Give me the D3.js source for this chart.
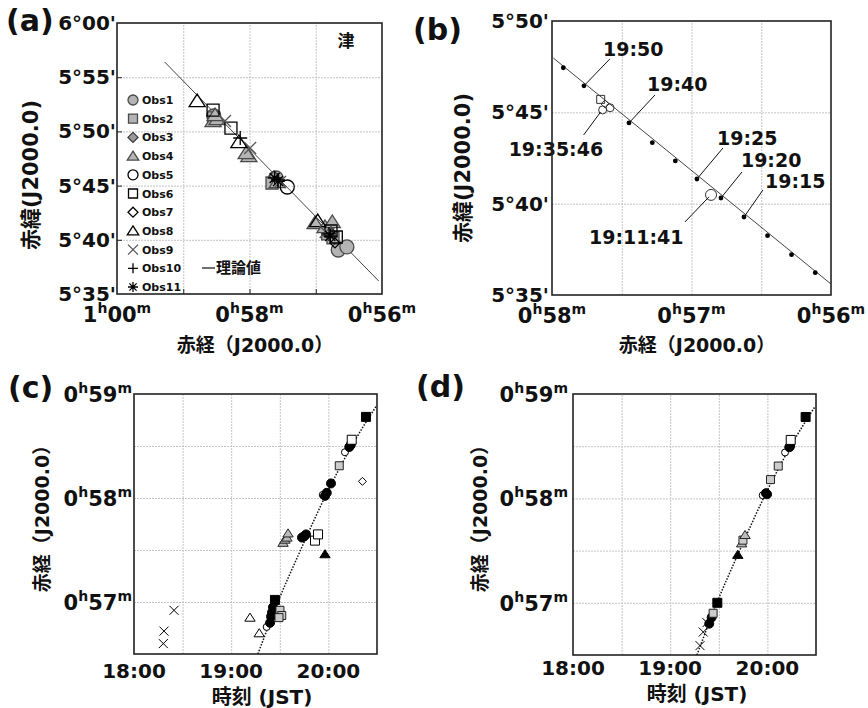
<!DOCTYPE html>
<html lang="ja">
<head>
<meta charset="UTF-8">
<title>観測位置と理論値</title>
<script src="https://cdn.jsdelivr.net/npm/d3@7"></script>
<style>
  body { margin: 0; background: #fff; }
  svg text { font-family: "DejaVu Sans", "Noto Sans CJK JP", sans-serif; font-weight: bold; fill: #111; }
</style>
</head>
<body>
<script>
// ---------- データ ----------
// 赤経は 0h からの分、赤緯は 5° からの分角
var obsNames = ["Obs1","Obs2","Obs3","Obs4","Obs5","Obs6","Obs7","Obs8","Obs9","Obs10","Obs11"];

// (a) 各観測者の位置 [名前, 赤経(分), 赤緯(分角)]
var aPoints = [
  ["Obs1", 58.54, 51.42], ["Obs1", 57.60, 45.70], ["Obs1", 56.66, 39.06], ["Obs1", 56.53, 39.34],
  ["Obs2", 58.54, 51.24], ["Obs2", 57.66, 45.24], ["Obs2", 56.82, 40.54], ["Obs2", 56.74, 40.17],
  ["Obs3", 57.63, 45.89], ["Obs3", 56.78, 40.72],
  ["Obs4", 58.55, 50.96], ["Obs4", 58.49, 51.14], ["Obs4", 58.52, 51.51], ["Obs4", 58.01, 47.73],
  ["Obs4", 58.05, 48.01], ["Obs4", 57.58, 45.33], ["Obs4", 57.01, 41.55], ["Obs4", 56.86, 41.18], ["Obs4", 56.75, 41.64],
  ["Obs5", 57.43, 44.87],
  ["Obs6", 58.55, 51.97], ["Obs6", 58.28, 50.31], ["Obs6", 56.69, 40.26], ["Obs6", 56.77, 40.81],
  ["Obs7", 56.71, 39.71],
  ["Obs8", 58.79, 52.80], ["Obs8", 58.16, 49.02], ["Obs8", 56.97, 41.73],
  ["Obs9", 58.37, 50.96], ["Obs9", 57.99, 48.47], ["Obs9", 57.54, 45.33], ["Obs9", 56.85, 40.72],
  ["Obs10", 58.14, 49.39], ["Obs10", 57.57, 45.52], ["Obs10", 56.80, 40.54],
  ["Obs11", 57.62, 45.70], ["Obs11", 57.57, 45.42], ["Obs11", 56.78, 40.35]
];
var theoryRaA = [59.28, 56.05];
var theoryDecA = [56.4, 36.2];
var decTicksA = [35, 40, 45, 50, 55, 60];
var decGridA = [40, 45, 50, 55];
var raTicksA = [60, 58, 56];
var raGridA = [59, 58, 57];

// (b) 理論経路の時刻と位置
var trackTimes = ["19:55","19:50","19:40","19:35","19:30","19:25","19:20","19:15","19:10","19:05","19:00"];
var trackRa  = [57.919, 57.771, 57.448, 57.281, 57.116, 56.961, 56.789, 56.624, 56.455, 56.283, 56.113];
var trackDec = [47.44, 46.45, 44.42, 43.34, 42.34, 41.35, 40.31, 39.27, 38.25, 37.21, 36.22];
var theoryRaB = [57.99, 56.0];
var theoryDecB = [47.97, 35.6];
var trackLabels = ["19:50", "19:40", "19:25", "19:20", "19:15"];
var bObsType = ["gsquare", "odiamond", "ocircle", "ocircle", "ocircle"];
var bObsRa  = [57.651, 57.620, 57.637, 57.584, 56.860];
var bObsDec = [45.71, 45.46, 45.13, 45.25, 40.48];
var bObsLabels = ["19:35:46", "19:11:41"];
var decTicksB = [35, 40, 45, 50];
var decGridB = [40, 45];
var raTicksB = [58, 57, 56];
var raGridB = [57.5, 57, 56.5];

// (c) 時刻と赤経
var cType = ["x","x","x","otri","otri","ocircle","fcircle","fcircle","fcircle","fcircle","fsquare",
  "gsquare","gsquare","gsquare","gtri","gtri","gtri","gtri","fcircle","fcircle","fcircle","osquare","osquare",
  "ftri","ocircle","fcircle","fcircle","fcircle","gsquare","ocircle","fcircle","fcircle","osquare","odiamond","fsquare"];
var cTime = ["18:18:06","18:18:30","18:24:42","19:11:36","19:17:18","19:21:54","19:24:00","19:24:36","19:25:12",
  "19:25:48","19:27:00","19:30:06","19:31:12","19:29:30","19:32:00","19:33:12","19:34:24","19:35:06","19:43:42",
  "19:45:00","19:46:12","19:51:42","19:53:36","19:57:54","19:56:30","19:57:54","19:59:00","20:01:36","20:06:42",
  "20:10:12","20:12:54","20:13:48","20:14:24","20:21:00","20:23:12"];
var cRa = [56.60,56.72,56.92,56.85,56.70,56.76,56.80,56.86,56.90,56.95,57.02,56.92,56.87,56.85,57.57,57.60,57.62,
  57.66,57.62,57.63,57.65,57.59,57.65,57.46,58.03,58.02,58.05,58.14,58.31,58.44,58.49,58.51,58.56,58.16,58.78];

// (d) 補正後
var dType = ["x","x","x","fcircle","fcircle","gsquare","fsquare","ftri","gtri","gsquare","gtri","ocircle","fcircle",
  "fcircle","gsquare","gsquare","ocircle","fcircle","fcircle","osquare","fsquare"];
var dTime = ["19:18:24","19:20:24","19:22:42","19:24:06","19:25:36","19:26:30","19:29:06","19:41:42","19:44:06",
  "19:44:54","19:46:12","19:57:06","19:59:06","19:59:48","20:01:54","20:06:42","20:10:54","20:13:30","20:14:00",
  "20:14:24","20:23:36"];
var dRa = [56.59,56.72,56.81,56.80,56.86,56.90,57.00,57.46,57.57,57.60,57.65,58.03,58.05,58.04,58.18,58.31,58.44,
  58.49,58.50,58.56,58.78];

// 理論曲線（時刻-赤経）
var fitTime = ["19:16:30","19:29:06","19:41:42","19:58:30","20:14:00","20:29:24"];
var fitRa = [56.50, 57.01, 57.46, 58.03, 58.49, 58.88];

var timeTicks = ["18:00:00","19:00:00","20:00:00"];
var timeGrid = ["18:30:00","19:00:00","19:30:00","20:00:00"];
var raTicksC = [59, 58, 57];
var raGridC = [57, 57.5, 58, 58.5];

// ---------- スタイル ----------
var obsStyle = {
  Obs1: {shape: "circle", fill: "#b4b4b4", stroke: "#4a4a4a"},
  Obs2: {shape: "square", fill: "#b4b4b4", stroke: "#4a4a4a"},
  Obs3: {shape: "diamond", fill: "#9a9a9a", stroke: "#3a3a3a"},
  Obs4: {shape: "triangle", fill: "#b4b4b4", stroke: "#4a4a4a"},
  Obs5: {shape: "circle", fill: "none", stroke: "#000"},
  Obs6: {shape: "square", fill: "none", stroke: "#000"},
  Obs7: {shape: "diamond", fill: "none", stroke: "#000"},
  Obs8: {shape: "triangle", fill: "none", stroke: "#000"},
  Obs9: {shape: "x", fill: "none", stroke: "#555"},
  Obs10: {shape: "plus", fill: "none", stroke: "#000"},
  Obs11: {shape: "asterisk", fill: "none", stroke: "#000"}
};
var sizeA = {circle: 7, square: 6, diamond: 5, triangle: 7, x: 6, plus: 7, asterisk: 7};

var smallStyle = {
  fcircle: {shape: "circle", fill: "#000", stroke: "#000", r: 4.5},
  fsquare: {shape: "square", fill: "#000", stroke: "#000", r: 4.5},
  ftri: {shape: "triangle", fill: "#000", stroke: "#000", r: 4.5},
  ocircle: {shape: "circle", fill: "#fff", stroke: "#000", r: 3.5},
  osquare: {shape: "square", fill: "#fff", stroke: "#000", r: 4.5},
  gsquare: {shape: "square", fill: "#ccc", stroke: "#222", r: 4},
  gtri: {shape: "triangle", fill: "#bbb", stroke: "#222", r: 4.5},
  otri: {shape: "triangle", fill: "#fff", stroke: "#000", r: 4.5},
  odiamond: {shape: "diamond", fill: "#fff", stroke: "#000", r: 4},
  x: {shape: "x", fill: "none", stroke: "#000", r: 4.5}
};

function shapeD(shape, r) {
  if (shape === "circle") return "M" + r + ",0A" + r + "," + r + " 0 1,1 " + (-r) + ",0A" + r + "," + r + " 0 1,1 " + r + ",0Z";
  if (shape === "square") return "M" + (-r) + "," + (-r) + "h" + 2 * r + "v" + 2 * r + "h" + (-2 * r) + "Z";
  if (shape === "triangle") return "M0," + (-r) + "L" + 1.15 * r + "," + 0.8 * r + "L" + (-1.15 * r) + "," + 0.8 * r + "Z";
  if (shape === "diamond") return "M0," + (-r) + "L" + r + ",0L0," + r + "L" + (-r) + ",0Z";
  if (shape === "x") return "M" + (-r) + "," + (-r) + "L" + r + "," + r + "M" + (-r) + "," + r + "L" + r + "," + (-r);
  if (shape === "plus") return "M" + (-r) + ",0H" + r + "M0," + (-r) + "V" + r;
  var q = r * 0.72;
  return shapeD("plus", r) + shapeD("x", q);
}

function marker(g, shape, x, y, r, fill, stroke, sw) {
  g.append("path")
    .attr("d", shapeD(shape, r))
    .attr("transform", "translate(" + x + "," + y + ")")
    .attr("fill", fill)
    .attr("stroke", stroke)
    .attr("stroke-width", sw || 1.2);
}

// ---------- 共通 ----------
var width = 868, height = 708;
var svg = d3.select("body").append("svg").attr("width", width).attr("height", height);
var parseT = d3.timeParse("%H:%M:%S");
var parseHM = d3.timeParse("%H:%M");

function grid(p, xs, ys, xv, yv, tick) {
  var g = svg.append("g");
  g.append("g").attr("transform", "translate(0," + (p.y + p.h) + ")")
    .call(d3.axisBottom(xs).tickValues(xv).tickSize(-p.h).tickFormat(""))
    .call(function(s){ s.select(".domain").remove(); })
    .selectAll("line").attr("stroke", "#c4c4c4").attr("stroke-dasharray", "2,1");
  g.append("g").attr("transform", "translate(" + p.x + ",0)")
    .call(d3.axisLeft(ys).tickValues(yv).tickSize(-p.w).tickFormat(""))
    .call(function(s){ s.select(".domain").remove(); })
    .selectAll("line").attr("stroke", "#c4c4c4").attr("stroke-dasharray", "2,1");
  if (tick) {
    g.append("g").attr("transform", "translate(0," + (p.y + p.h) + ")")
      .call(d3.axisBottom(xs).tickValues(xv).tickSize(-5).tickFormat(""))
      .call(function(s){ s.select(".domain").remove(); })
      .selectAll("line").attr("stroke", "#222");
    g.append("g").attr("transform", "translate(" + p.x + ",0)")
      .call(d3.axisLeft(ys).tickValues(yv).tickSize(-5).tickFormat(""))
      .call(function(s){ s.select(".domain").remove(); })
      .selectAll("line").attr("stroke", "#222");
  }
}

function frame(p) {
  svg.append("rect").attr("x", p.x).attr("y", p.y).attr("width", p.w).attr("height", p.h)
    .attr("fill", "none").attr("stroke", "#222").attr("stroke-width", 1.6);
}

function raLabel(x, y, v, anchor) {
  var h = Math.floor(v / 60), m = d3.format("02d")(v % 60);
  var t = svg.append("text").attr("x", x).attr("y", y).attr("text-anchor", anchor)
    .style("font-size", "21px");
  t.append("tspan").text(h);
  t.append("tspan").attr("dy", -9).style("font-size", "14px").text("h");
  t.append("tspan").attr("dy", 9).text(m);
  t.append("tspan").attr("dy", -9).style("font-size", "14px").text("m");
}

function decLabel(x, y, v) {
  var deg = 5 + Math.floor(v / 60), m = d3.format("02d")(v % 60);
  svg.append("text").attr("x", x).attr("y", y).attr("text-anchor", "end")
    .style("font-size", "20px").text(deg + "°" + m + "'");
}

function title(x, y, s, size, rot) {
  svg.append("text")
    .attr("transform", "translate(" + x + "," + y + ")" + (rot ? " rotate(-90)" : ""))
    .attr("text-anchor", "middle").attr("dominant-baseline", rot ? "middle" : "auto")
    .style("font-size", size + "px").text(s);
}

function panelLabel(x, y, s) {
  svg.append("text").attr("x", x).attr("y", y).style("font-size", "30px").text(s);
}

// ---------- (a) ----------
var pA = {x: 117, y: 23, w: 265, h: 271};
var xA = d3.scaleLinear().domain([60, 56]).range([pA.x, pA.x + pA.w]);
var yA = d3.scaleLinear().domain([35, 60]).range([pA.y + pA.h, pA.y]);
grid(pA, xA, yA, raGridA, decGridA, true);

svg.append("line")
  .attr("x1", xA(theoryRaA[0])).attr("y1", yA(theoryDecA[0]))
  .attr("x2", xA(theoryRaA[1])).attr("y2", yA(theoryDecA[1]))
  .attr("stroke", "#444").attr("stroke-width", 1);

var gA = svg.append("g");
aPoints.forEach(function(d) {
  var st = obsStyle[d[0]];
  marker(gA, st.shape, xA(d[1]), yA(d[2]), sizeA[st.shape], st.fill, st.stroke, 1.3);
});
frame(pA);

// 凡例
obsNames.forEach(function(n, i) {
  var st = obsStyle[n], y = 100 + i * 18.7;
  marker(svg, st.shape, 133, y, st.shape === "square" ? 4.5 : 5, st.fill, st.stroke, 1.3);
  svg.append("text").attr("x", 142).attr("y", y + 4).style("font-size", "11px").text(n);
});
svg.append("line").attr("x1", 202).attr("x2", 215).attr("y1", 268).attr("y2", 268)
  .attr("stroke", "#222").attr("stroke-width", 1.3);
svg.append("text").attr("x", 216).attr("y", 273).style("font-size", "15px").text("理論値");
svg.append("text").attr("x", 346).attr("y", 47).attr("text-anchor", "middle").style("font-size", "17px").text("津");

decTicksA.forEach(function(v) { decLabel(pA.x - 1, yA(v) + 7, v); });
raTicksA.forEach(function(v) { raLabel(xA(v), 322, v, "middle"); });
panelLabel(6, 31, "(a)");
title(32, 175, "赤緯(J2000.0)", 21, true);
title(255, 352, "赤経（J2000.0）", 19, false);

// ---------- (b) ----------
var pB = {x: 552, y: 21, w: 279, h: 274};
var xB = d3.scaleLinear().domain([58, 56]).range([pB.x, pB.x + pB.w]);
var yB = d3.scaleLinear().domain([35, 50]).range([pB.y + pB.h, pB.y]);
grid(pB, xB, yB, raGridB, decGridB, false);

svg.append("line")
  .attr("x1", xB(theoryRaB[0])).attr("y1", yB(theoryDecB[0]))
  .attr("x2", xB(theoryRaB[1])).attr("y2", yB(theoryDecB[1]))
  .attr("stroke", "#444").attr("stroke-width", 1);
svg.append("g").selectAll("circle").data(trackTimes).join("circle")
  .attr("cx", function(d, i) { return xB(trackRa[i]); })
  .attr("cy", function(d, i) { return yB(trackDec[i]); })
  .attr("r", 2.4).attr("fill", "#000");

var gB = svg.append("g");
bObsType.forEach(function(t, i) {
  var st = smallStyle[t];
  var r = i === 4 ? 5.5 : 4;
  marker(gB, st.shape, xB(bObsRa[i]), yB(bObsDec[i]), r, i === 4 ? "#fff" : "none", "#333", 1);
});

// ラベルの引き出し線（オフセットはピクセル）
var trackLabelOffset = {
  "19:50": [26, -27, 19, -30], "19:40": [26, -28, 18, -32], "19:25": [26, -31, 20, -34],
  "19:20": [21, -26, 20, -31], "19:15": [19, -27, 21, -29]
};
trackLabels.forEach(function(s) {
  var i = trackTimes.indexOf(s), o = trackLabelOffset[s];
  var x = xB(trackRa[i]), y = yB(trackDec[i]);
  svg.append("line").attr("x1", x).attr("y1", y).attr("x2", x + o[0]).attr("y2", y + o[1])
    .attr("stroke", "#111").attr("stroke-width", 1);
  svg.append("text").attr("x", x + o[2]).attr("y", y + o[3]).style("font-size", "19px").text(s);
});
var obsLabelAnchor = [2, 4];
var obsLabelOffset = [[-19, 25, -94, 46], [-26, 27, -122, 49]];
bObsLabels.forEach(function(s, k) {
  var i = obsLabelAnchor[k], o = obsLabelOffset[k];
  var x = xB(bObsRa[i]), y = yB(bObsDec[i]);
  svg.append("line").attr("x1", x - 2).attr("y1", y + 2).attr("x2", x + o[0]).attr("y2", y + o[1])
    .attr("stroke", "#111").attr("stroke-width", 1);
  svg.append("text").attr("x", x + o[2]).attr("y", y + o[3]).style("font-size", "19px").text(s);
});
frame(pB);

decTicksB.forEach(function(v) { decLabel(pB.x - 3, yB(v) + 7, v); });
raTicksB.forEach(function(v) { raLabel(xB(v), 323, v, "middle"); });
panelLabel(413, 40, "(b)");
title(464, 168, "赤緯(J2000.0)", 21, true);
title(697, 352, "赤経（J2000.0）", 19, false);

// ---------- (c)(d) ----------
function timePanel(p, types, times, ras, lab, labX, labY, raLabX, tickBase, titleX, titleY, ytX) {
  var x = d3.scaleTime().domain([parseT("18:00:00"), parseT("20:30:00")]).range([p.x, p.x + p.w]);
  var y = d3.scaleLinear().domain([56.5, 59]).range([p.y + p.h, p.y]);
  grid(p, x, y, timeGrid.map(parseT), raGridC, false);

  var line = d3.line().curve(d3.curveMonotoneX)
    .x(function(d, i) { return x(parseT(d)); })
    .y(function(d, i) { return y(fitRa[i]); });
  svg.append("path").attr("d", line(fitTime)).attr("fill", "none")
    .attr("stroke", "#111").attr("stroke-width", 1.5).attr("stroke-dasharray", "1.5,1.5");

  var g = svg.append("g");
  types.forEach(function(t, i) {
    var st = smallStyle[t];
    marker(g, st.shape, x(parseT(times[i])), y(ras[i]), st.r, st.fill, st.stroke, 1);
  });
  frame(p);

  raTicksC.forEach(function(v) { raLabel(raLabX, y(v) + 8, v, "end"); });
  timeTicks.forEach(function(s) {
    svg.append("text").attr("x", x(parseT(s))).attr("y", tickBase).attr("text-anchor", "middle")
      .style("font-size", "20px").text(d3.timeFormat("%H:%M")(parseT(s)));
  });
  panelLabel(labX, labY, lab);
  title(ytX, p.y + 120, "赤経（J2000.0）", 19, true);
  title(titleX, titleY, "時刻 (JST)", 20, false);
}

timePanel({x: 134, y: 394, w: 243, h: 260}, cType, cTime, cRa, "(c)", 8, 398, 132, 678, 262, 704, 43);
timePanel({x: 573, y: 394, w: 243, h: 261}, dType, dTime, dRa, "(d)", 416, 397, 568, 675, 697, 701, 481);
</script>
</body>
</html>
